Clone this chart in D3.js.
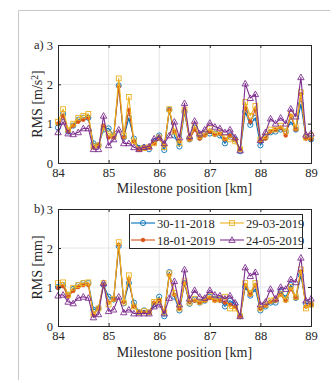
<!DOCTYPE html>
<html><head><meta charset="utf-8">
<script src="https://cdn.jsdelivr.net/npm/d3@7/dist/d3.min.js"></script>
<style>
body{margin:0;background:#fff}svg{display:block}
svg text{font-family:"Liberation Serif",serif !important;}
</style>
</head><body>
<svg id="c" width="330" height="380"></svg>
<script>
const xs = d3.range(51).map(i => 84 + i * 0.1);
const seriesNames = ["30-11-2018", "18-01-2019", "29-03-2019", "24-05-2019"];
const xTicks = [84, 85, 86, 87, 88, 89];
const yTicks = [0, 1, 2, 3];

const accA_1130 = [0.9,1.25,0.8,0.95,1.1,1.15,1.15,0.5,0.45,0.85,0.88,0.7,1.97,0.65,1.15,0.62,0.38,0.4,0.35,0.55,0.7,0.33,1.35,0.7,0.42,1.3,0.6,0.9,0.65,0.75,0.75,0.75,0.7,0.5,0.7,0.6,0.3,1.3,0.97,1.15,0.45,0.65,0.78,0.8,0.85,0.8,1.05,0.85,1.5,0.65,0.6];
const accA_0118 = [1.0,1.2,0.8,0.95,1.05,1.1,1.15,0.4,0.45,0.95,0.65,0.65,1.95,0.65,1.35,0.55,0.35,0.38,0.4,0.5,0.62,0.45,1.35,0.8,0.55,1.35,0.6,0.85,0.62,0.7,0.8,0.72,0.75,0.6,0.7,0.6,0.35,1.4,1.05,1.35,0.55,0.62,0.8,0.85,0.9,0.7,1.2,0.85,1.75,0.62,0.6];
const accA_0329 = [1.05,1.37,0.85,1.0,1.15,1.2,1.25,0.42,0.45,0.9,0.75,0.68,2.15,0.7,1.68,0.55,0.35,0.38,0.4,0.5,0.65,0.4,1.37,0.8,0.5,1.35,0.62,0.95,0.68,0.75,0.88,0.75,0.78,0.65,0.6,0.55,0.35,1.55,1.2,1.45,0.6,0.68,0.85,0.85,0.95,0.8,1.25,0.9,1.8,0.65,0.7];
const accA_0524 = [0.78,1.05,0.75,0.73,0.78,0.88,0.88,0.35,0.35,1.2,0.45,0.6,0.85,0.5,0.5,0.4,0.35,0.4,0.42,0.62,0.65,0.5,0.7,1.05,0.65,1.52,0.68,1.07,0.75,0.85,1.02,0.92,0.88,0.78,0.85,0.65,0.32,2.02,1.65,1.75,0.58,0.78,1.13,1.0,1.15,1.0,1.38,1.18,2.18,0.72,0.75];

const dispB_1130 = [1.0,1.05,0.8,0.95,1.05,1.1,1.1,0.42,0.45,1.05,0.75,0.68,2.05,0.58,1.1,0.6,0.35,0.4,0.35,0.55,0.75,0.25,1.38,0.75,0.4,1.1,0.57,0.68,0.6,0.65,0.75,0.7,0.68,0.5,0.65,0.55,0.25,1.0,0.78,0.95,0.4,0.5,0.6,0.6,0.9,0.72,1.05,0.72,1.3,0.58,0.55];
const dispB_0118 = [0.98,1.02,0.75,0.9,1.0,1.05,1.05,0.3,0.45,1.05,0.6,0.68,2.08,0.62,1.2,0.5,0.35,0.35,0.35,0.6,0.65,0.38,1.3,0.8,0.45,1.1,0.62,0.65,0.6,0.65,0.72,0.65,0.65,0.6,0.55,0.5,0.25,1.05,0.8,1.05,0.45,0.52,0.62,0.65,0.8,0.65,0.95,0.72,1.4,0.5,0.55];
const dispB_0329 = [1.1,1.12,0.8,0.98,1.05,1.1,1.12,0.3,0.45,1.1,0.55,0.7,2.15,0.6,1.3,0.5,0.35,0.38,0.35,0.62,0.65,0.35,1.35,0.85,0.45,1.15,0.6,0.7,0.62,0.68,0.78,0.68,0.7,0.75,0.45,0.45,0.25,1.1,0.85,1.1,0.45,0.55,0.65,0.68,0.82,0.68,1.0,0.75,1.45,0.45,0.55];
const dispB_0524 = [0.78,0.8,0.62,0.58,0.72,0.75,0.72,0.22,0.3,1.1,0.38,0.42,0.75,0.35,0.42,0.32,0.32,0.32,0.32,0.5,0.55,0.32,0.72,1.15,0.55,1.45,0.7,0.92,0.75,0.72,0.92,0.8,0.78,0.7,0.78,0.6,0.25,1.5,1.28,1.38,0.55,0.62,0.95,0.7,1.0,0.95,1.2,1.12,1.75,0.65,0.7];

const colors = ["#0072BD", "#D95319", "#EDB120", "#7E2F8E"];
const markers = ["circle", "dot", "square", "triangle"];

const svg = d3.select("#c");
const FONT = "Liberation Serif";

// figure frame
svg.append("path").attr("d", "M18.5,380 L18.5,10.5 L330,10.5")
  .attr("fill", "none").attr("stroke", "#c8c8c8").attr("stroke-width", 1);

function drawMarker(g, type, cx, cy, color) {
  if (type === "circle") {
    g.append("circle").attr("cx", cx).attr("cy", cy).attr("r", 2.6)
      .attr("fill", "none").attr("stroke", color).attr("stroke-width", 0.9);
  } else if (type === "dot") {
    g.append("circle").attr("cx", cx).attr("cy", cy).attr("r", 1.9)
      .attr("fill", color).attr("stroke", color).attr("stroke-width", 0.6);
  } else if (type === "square") {
    g.append("rect").attr("x", cx - 2.4).attr("y", cy - 2.4).attr("width", 4.8).attr("height", 4.8)
      .attr("fill", "none").attr("stroke", color).attr("stroke-width", 0.9);
  } else {
    const s = 3.2;
    g.append("path").attr("d", `M${cx},${cy - s} L${cx + s},${cy + s * 0.75} L${cx - s},${cy + s * 0.75} Z`)
      .attr("fill", "none").attr("stroke", color).attr("stroke-width", 0.9);
  }
}

function panel(top, bottom, data, ylabelParts, tag, xlabelY, legend) {
  const x = d3.scaleLinear().domain([84, 89]).range([58, 311]);
  const y = d3.scaleLinear().domain([0, 3]).range([bottom, top]);
  const g = svg.append("g");
  // grid
  g.selectAll(".gx").data(xTicks.slice(1, -1)).join("line")
    .attr("x1", d => x(d)).attr("x2", d => x(d)).attr("y1", top).attr("y2", bottom)
    .attr("stroke", "#e6e6e6").attr("stroke-width", 1);
  g.selectAll(".gy").data(yTicks.slice(1, -1)).join("line")
    .attr("y1", d => y(d)).attr("y2", d => y(d)).attr("x1", 58).attr("x2", 311)
    .attr("stroke", "#e6e6e6").attr("stroke-width", 1);

  const sg = g.append("g");
  const line = d3.line().x((d, i) => x(xs[i])).y(d => y(d));
  data.forEach((arr, k) => {
    sg.append("path").attr("d", line(arr)).attr("fill", "none")
      .attr("stroke", colors[k]).attr("stroke-width", 1.1).attr("stroke-linejoin", "round");
    arr.forEach((v, i) => drawMarker(sg, markers[k], x(xs[i]), y(v), colors[k]));
  });

  // axes box + ticks
  const axColor = "#262626";
  const axB = d3.axisBottom(x).tickValues(xTicks).tickSize(-3).tickPadding(5).tickFormat(d3.format("d"));
  const axT = d3.axisTop(x).tickValues(xTicks).tickSize(-3).tickFormat("");
  const axL = d3.axisLeft(y).tickValues(yTicks).tickSize(-3).tickPadding(5).tickFormat(d3.format("d"));
  const axR = d3.axisRight(y).tickValues(yTicks).tickSize(-3).tickFormat("");
  [[axB, `translate(0,${bottom})`], [axT, `translate(0,${top})`], [axL, "translate(58,0)"], [axR, "translate(311,0)"]]
    .forEach(([ax, tr]) => {
      const a = g.append("g").attr("transform", tr).call(ax);
      a.attr("font-family", FONT).attr("font-size", 12.5);
      a.select(".domain").attr("stroke", axColor).attr("stroke-width", 1);
      a.selectAll(".tick line").attr("stroke", axColor);
      a.selectAll("text").attr("fill", axColor);
    });

  // tag
  g.append("text").attr("x", 34).attr("y", top + 4).text(tag + ")")
    .attr("font-family", FONT).attr("font-size", 12.5).attr("fill", axColor);

  // y label
  const yl = g.append("text").attr("transform", `translate(42,${(top + bottom) / 2}) rotate(-90)`)
    .attr("text-anchor", "middle").attr("font-family", FONT).attr("font-size", 14).attr("fill", axColor);
  yl.append("tspan").text(ylabelParts[0]);
  if (ylabelParts[1]) {
    yl.append("tspan").text(ylabelParts[1]).attr("dy", "-0.45em").attr("font-size", 9.5);
    yl.append("tspan").text(ylabelParts[2]).attr("dy", "0.3em");
  }
  // x label
  g.append("text").attr("x", (58 + 311) / 2).attr("y", xlabelY).attr("text-anchor", "middle")
    .text("Milestone position [km]").attr("font-family", FONT).attr("font-size", 14).attr("fill", axColor);

  if (legend) {
    const lg = svg.append("g");
    lg.append("rect").attr("x", 129.5).attr("y", 214.5).attr("width", 173).attr("height", 34)
      .attr("fill", "#fff").attr("stroke", axColor).attr("stroke-width", 1);
    const pos = [[131, 223], [131, 240], [220, 223], [220, 240]];
    seriesNames.forEach((n, k) => {
      const [lx, ly] = pos[k];
      lg.append("line").attr("x1", lx).attr("x2", lx + 24).attr("y1", ly).attr("y2", ly)
        .attr("stroke", colors[k]).attr("stroke-width", 1.1);
      drawMarker(lg, markers[k], lx + 12, ly, colors[k]);
      lg.append("text").attr("x", lx + 26).attr("y", ly + 4.5).text(n)
        .attr("font-family", FONT).attr("font-size", 12.5).attr("fill", axColor);
    });
  }
}

panel(45, 163, [accA_1130, accA_0118, accA_0329, accA_0524], ["RMS [m/s", "2", "]"], "a", 193, false);
panel(209, 326, [dispB_1130, dispB_0118, dispB_0329, dispB_0524], ["RMS [mm]"], "b", 357, true);
</script>
</body></html>
